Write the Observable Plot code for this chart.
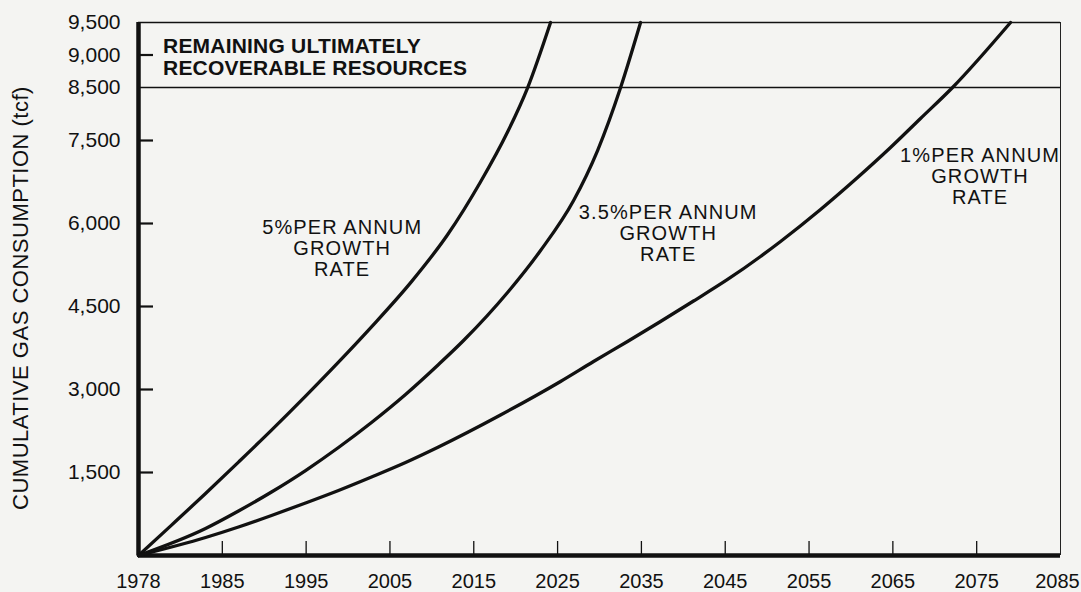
<!DOCTYPE html>
<html>
<head>
<meta charset="utf-8">
<script src="https://cdn.jsdelivr.net/npm/d3@7"></script>
<script src="https://cdn.jsdelivr.net/npm/@observablehq/plot@0.6"></script>
<style>
  html, body { margin: 0; padding: 0; background: #f4f4f2; }
  #chart svg { display: block; }
</style>
</head>
<body>
<div id="chart"></div>
<script>
// ---- data ----
const xTicks = [1978, 1985, 1995, 2005, 2015, 2025, 2035, 2045, 2055, 2065, 2075, 2085];
const yTicks = [1500, 3000, 4500, 6000, 7500, 8500, 9000, 9500];
const yTickMarks = [1500, 3000, 4500, 6000, 7500, 9000];
const resourceLimit = 8500;
const yTop = 9500;

const years5 = [1978, 1980.76, 1983.60, 1986.93, 1990.87, 1994.93, 1998.86, 2002.80, 2007.57, 2011.87, 2015.80, 2019.03, 2021.41, 2024.16];
const cum5   = [0, 549, 1120, 1688, 2266, 2881, 3495, 4133, 4950, 5796, 6750, 7660, 8490, 9500];

const years35 = [1978, 1983.60, 1986.93, 1990.87, 1994.93, 1998.86, 2002.80, 2006.86, 2010.80, 2013.78, 2019.03, 2022.97, 2026.91, 2029.77, 2032.52, 2034.90];
const cum35   = [0, 488, 804, 1148, 1536, 1952, 2404, 2910, 3452, 3885, 4753, 5512, 6416, 7319, 8500, 9500];

const years1 = [1978, 1983.60, 1986.93, 1990.87, 1994.93, 1998.86, 2002.80, 2006.86, 2010.79, 2018.19, 2025.35, 2029.29, 2033.34, 2037.28, 2041.22, 2045.28, 2049.21, 2051.60, 2056.37, 2060.79, 2064.72, 2068.30, 2072.12, 2079.04];
const cum1   = [0, 325, 515, 723, 949, 1175, 1419, 1681, 1961, 2539, 3145, 3506, 3867, 4229, 4599, 4988, 5404, 5675, 6253, 6831, 7373, 7915, 8500, 9500];

const seriesNames = ["5%", "3.5%", "1%"];
const seriesYears = [years5, years35, years1];
const seriesCum = [cum5, cum35, cum1];

const curveLabels = [
  "5%PER ANNUM\nGROWTH\nRATE",
  "3.5%PER ANNUM\nGROWTH\nRATE",
  "1%PER ANNUM\nGROWTH\nRATE"
];
const resourceLabel = "REMAINING ULTIMATELY\nRECOVERABLE RESOURCES";
const yLabel = "CUMULATIVE GAS CONSUMPTION (tcf)";

// ---- the original axes are not uniform: piecewise-linear axis transforms ----
// x: 1978→1985 spans one tick interval, then one interval per decade
const xf = yr => yr <= 1985 ? (yr - 1978) / 7 : 1 + (yr - 1985) / 10;
// y: 0–7500 uniform, 7500–8500 and 8500–9500 drawn on their own steps
const yf = v => v <= 7500 ? v * 415 / 7500
             : v <= 8500 ? 415 + (v - 7500) * 53 / 1000
             : 468 + (v - 8500) * 65 / 1000;

const xLabelOf = new Map(xTicks.map(t => [xf(t), String(t)]));
const yLabelOf = new Map(yTicks.map(t => [yf(t), d3.format(",")(t)]));

// ---- build table ----
const rows = seriesNames.flatMap((name, i) =>
  seriesYears[i].map((yr, j) => ({series: name, year: yr, cum: seriesCum[i][j]}))
);

const W = 1081, H = 592;
const mL = 138, mT = 22, mR = 21, mB = 37;
const innerH = H - mT - mB, innerW = W - mL - mR;

const chart = Plot.plot({
  width: W,
  height: H,
  marginLeft: mL,
  marginTop: mT,
  marginRight: mR,
  marginBottom: mB,
  style: {
    fontFamily: "'Liberation Sans', Arial, Helvetica, sans-serif",
    fontSize: "20px",
    background: "#f4f4f2",
    color: "#111"
  },
  x: {domain: [xf(1978), xf(2085)]},
  y: {domain: [yf(0), yf(9500)]},
  marks: [
    Plot.axisX({ticks: xTicks.map(xf), tickSize: 0, tickPadding: 18, tickFormat: v => xLabelOf.get(v), label: null, fontSize: 20}),
    Plot.axisY({ticks: yTicks.map(yf), tickSize: 0, tickPadding: 18, tickFormat: v => yLabelOf.get(v), label: null, fontSize: 21}),
    // x tick marks pointing up into the plot
    Plot.tickX(xTicks.slice(1, -1), {x: xf, insetTop: innerH - 14, stroke: "#111", strokeWidth: 1.3}),
    // y tick marks pointing right into the plot
    Plot.tickY(yTickMarks, {y: yf, insetRight: innerW - 15, stroke: "#111", strokeWidth: 2.2}),
    // frame lines
    Plot.ruleY([yTop], {y: yf, stroke: "#111", strokeWidth: 1.5}),
    Plot.ruleX([2085], {x: xf, stroke: "#222", strokeWidth: 1}),
    Plot.ruleY([resourceLimit], {y: yf, stroke: "#111", strokeWidth: 1.6}),
    Plot.ruleX([1978], {x: xf, stroke: "#111", strokeWidth: 4.5}),
    Plot.ruleY([0], {y: yf, stroke: "#111", strokeWidth: 4.5}),
    // curves
    Plot.line(rows, {x: d => xf(d.year), y: d => yf(d.cum), z: "series", stroke: "#111", strokeWidth: 3.3, curve: "monotone-x"}),
    // annotations
    Plot.text([resourceLabel], {x: xf(1980.05), y: yf(8977), text: d => d, textAnchor: "start", lineAnchor: "middle", lineHeight: 1.05, fontSize: 21, fontWeight: "bold", fill: "#111"}),
    Plot.text([curveLabels[0]], {x: xf(1999.3), y: yf(5549), text: d => d, textAnchor: "middle", lineAnchor: "middle", lineHeight: 1.03, fontSize: 20, fill: "#111"}),
    Plot.text([curveLabels[1]], {x: xf(2038.2), y: yf(5820), text: d => d, textAnchor: "middle", lineAnchor: "middle", lineHeight: 1.03, fontSize: 20, fill: "#111"}),
    Plot.text([curveLabels[2]], {x: xf(2075.4), y: yf(6850), text: d => d, textAnchor: "middle", lineAnchor: "middle", lineHeight: 1.03, fontSize: 20, fill: "#111"}),
    Plot.text([yLabel], {frameAnchor: "left", dx: -118, dy: 9, rotate: -90, text: d => d, textAnchor: "middle", fontSize: 22, fill: "#111"})
  ]
});

const svg = d3.select(chart);
svg.selectAll("text").filter(function() { return /PER ANNUM|GROWTH/.test(this.textContent); })
  .style("letter-spacing", "1.1px");
svg.selectAll("text").filter(function() { return /CUMULATIVE/.test(this.textContent); })
  .style("letter-spacing", "0.5px");
svg.selectAll("text").filter(function() { return /REMAINING/.test(this.textContent); })
  .style("letter-spacing", "0.2px");
// keep the last year label inside the page edge
svg.selectAll("text").filter(function() { return this.textContent === "2085"; })
  .attr("dx", -3);

document.getElementById("chart").appendChild(chart);
</script>
</body>
</html>
